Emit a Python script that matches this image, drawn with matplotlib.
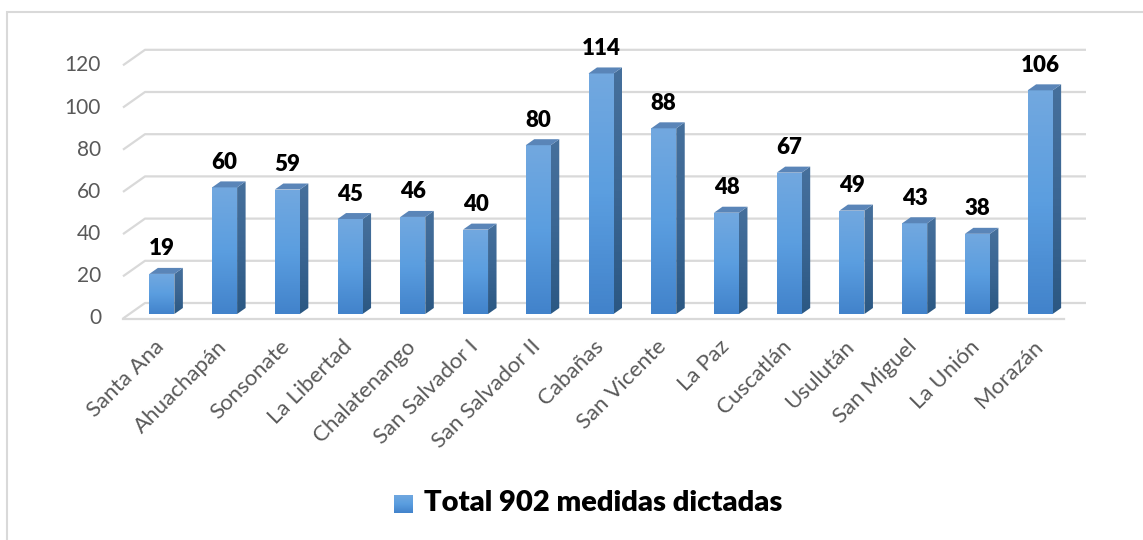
"""Recreate the 3D-style Excel column chart of medidas dictadas by department."""

import matplotlib

matplotlib.use("Agg")
import matplotlib.pyplot as plt
import numpy as np
from matplotlib.colors import LinearSegmentedColormap
from matplotlib.patches import Polygon, Rectangle

DEPARTMENTS = [
    "Santa Ana", "Ahuachapán", "Sonsonate", "La Libertad", "Chalatenango",
    "San Salvador I", "San Salvador II", "Cabañas", "San Vicente", "La Paz",
    "Cuscatlán", "Usulután", "San Miguel", "La Unión", "Morazán",
]
MEDIDAS = [19, 60, 59, 45, 46, 40, 80, 114, 88, 48, 67, 49, 43, 38, 106]
Y_TICKS = [0, 20, 40, 60, 80, 100, 120]
LEGEND_LABEL = "Total 902 medidas dictadas"

GRID_COLOR = "#d9d9d9"
TICK_COLOR = "#595959"
FRONT_CMAP = LinearSegmentedColormap.from_list("front", ["#4283cb", "#5b9ee0", "#72a8df"])
SIDE_CMAP = LinearSegmentedColormap.from_list("side", ["#2b5883", "#3b6693", "#46709c"])
TOP_COLOR = "#5a85b8"

plt.rcParams["font.family"] = ["Lato", "DejaVu Sans"]

W, H = 1143, 540
fig = plt.figure(figsize=(W / 100, H / 100), dpi=100)

# axes = front plane of the 3D box (pixel geometry)
ax_left, ax_bottom, ax_w, ax_h = 123, 540 - 318.5, 941, 253.2
ax = fig.add_axes([ax_left / W, ax_bottom / H, ax_w / W, ax_h / H])
n = len(DEPARTMENTS)
ax.set_xlim(-0.5, n - 0.5)
ax.set_ylim(0, 120)
ax.axis("off")

ux = ax_w / n      # pixels per category
uy = ax_h / 120    # pixels per value unit


def px(dx, dy):
    """Convert an image-pixel offset (y down) to data units."""
    return dx / ux, -dy / uy


back_dx, back_dy = px(22, -15.5)
front_dx, front_dy = px(7.5, -4.5)
side_dx, side_dy = px(8.5, -6)
bar_w = 25 / ux

# back wall gridlines with slanted left-wall segments
for v in Y_TICKS:
    xs = [-0.5, -0.5 + back_dx, n - 0.5 + back_dx]
    ys = [v, v + back_dy, v + back_dy]
    ax.plot(xs, ys, color=GRID_COLOR, lw=1.6, clip_on=False, zorder=1,
            solid_capstyle="butt")
    ax.text(-0.5 - 22 / ux, v, str(v), ha="right", va="center",
            fontsize=15, color=TICK_COLOR)
# floor front edge
ax.plot([-0.5, n - 0.5], [0, 0], color=GRID_COLOR, lw=1.6, clip_on=False, zorder=1)

grad = np.linspace(0, 1, 64).reshape(-1, 1)

for i, (name, val) in enumerate(zip(DEPARTMENTS, MEDIDAS)):
    x0 = i - bar_w / 2 + front_dx
    y0 = front_dy
    # front face with vertical gradient
    front = Rectangle((x0, y0), bar_w, val, facecolor="none", edgecolor="none")
    ax.add_patch(front)
    img = ax.imshow(grad, cmap=FRONT_CMAP, origin="lower", aspect="auto",
                    extent=[x0, x0 + bar_w, y0, y0 + val], zorder=3)
    img.set_clip_path(front)
    # side face
    side_pts = [(x0 + bar_w, y0), (x0 + bar_w + side_dx, y0 + side_dy),
                (x0 + bar_w + side_dx, y0 + val + side_dy), (x0 + bar_w, y0 + val)]
    side = Polygon(side_pts, closed=True, facecolor="none", edgecolor="none")
    ax.add_patch(side)
    simg = ax.imshow(grad, cmap=SIDE_CMAP, origin="lower", aspect="auto",
                     extent=[x0 + bar_w, x0 + bar_w + side_dx, y0, y0 + val + side_dy],
                     zorder=3)
    simg.set_clip_path(side)
    # top face
    top_pts = [(x0, y0 + val), (x0 + side_dx, y0 + val + side_dy),
               (x0 + bar_w + side_dx, y0 + val + side_dy), (x0 + bar_w, y0 + val)]
    ax.add_patch(Polygon(top_pts, closed=True, facecolor=TOP_COLOR,
                         edgecolor="none", zorder=3, clip_on=False))
    # value label
    ax.annotate(str(val), (i + front_dx, y0 + val), xytext=(0, 25),
                textcoords="offset pixels", ha="center", va="center",
                fontsize=16, fontweight="heavy", color="black", annotation_clip=False)
    # category label
    ax.annotate(name, (i, 0), xytext=(14, -18), textcoords="offset pixels",
                rotation=45, ha="right", va="top", fontsize=16,
                color=TICK_COLOR, annotation_clip=False)

ax.set_xlim(-0.5, n - 0.5)
ax.set_ylim(0, 120)

# legend: gradient square plus bold label
lax = fig.add_axes([394 / W, (H - 513) / H, 19 / W, 18 / H])
lax.imshow(grad, cmap=FRONT_CMAP, origin="lower", aspect="auto")
lax.axis("off")
fig.text(424 / W, (H - 503) / H, LEGEND_LABEL, ha="left", va="center",
         fontsize=21, fontweight="heavy", color="black")

# chart area border
fig.add_artist(Rectangle((7 / W, -0.1), 1.2, (H - 12) / H + 0.1,
                         transform=fig.transFigure, fill=False,
                         edgecolor=GRID_COLOR, lw=1.5))

fig.savefig("out.png", dpi=100)
